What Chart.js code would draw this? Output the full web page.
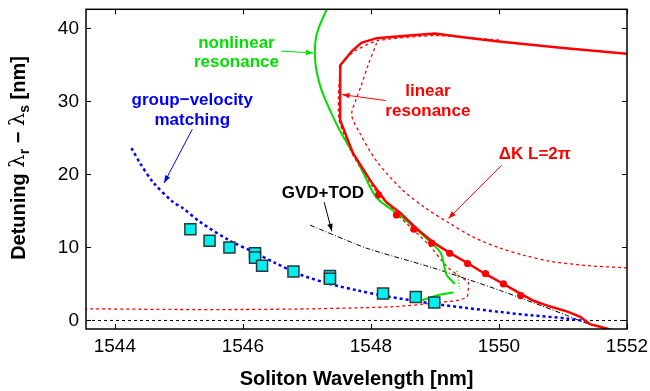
<!DOCTYPE html>
<html>
<head>
<meta charset="utf-8">
<script src="https://cdn.jsdelivr.net/npm/chart.js@4/dist/chart.umd.min.js"></script>
<style>
  html, body { margin: 0; padding: 0; background: #fff; }
  #chart { display: block; }
</style>
</head>
<body>
<canvas id="chart" width="650" height="391"></canvas>
<script>
// --- axis ticks ---
const xTicks = [1544, 1546, 1548, 1550, 1552];
const yTicks = [0, 10, 20, 30, 40];

// --- measured detuning (cyan squares) ---
const measX = [1545.18, 1545.48, 1545.79, 1546.19, 1546.19, 1546.30, 1546.79, 1547.36, 1547.36, 1548.19, 1548.70, 1548.99];
const measY = [12.5, 10.9, 10.0, 9.2, 8.6, 7.5, 6.7, 6.1, 5.7, 3.7, 3.2, 2.45];

// --- simulated points (red dots) ---
const simX = [1548.12, 1548.40, 1548.67, 1548.95, 1549.23, 1549.51, 1549.79, 1550.07, 1550.34];
const simY = [17.2, 14.45, 12.5, 10.6, 9.2, 7.8, 6.4, 5.0, 3.4];

// --- linear resonance (red solid) ---
const linX = [1552.0, 1551.0, 1550.0, 1549.5, 1549.0, 1548.45, 1548.09, 1547.85, 1547.70, 1547.52, 1547.52, 1547.72, 1548.01, 1548.24, 1548.45, 1548.71, 1548.97, 1549.23, 1549.50, 1549.78, 1550.03, 1550.28, 1550.54, 1550.80, 1551.06, 1551.27, 1551.42, 1551.58, 1551.76];
const linY = [36.5, 37.3, 38.2, 38.7, 39.3, 38.9, 38.65, 38.0, 36.85, 34.9, 27.4, 22.9, 18.9, 16.2, 14.8, 12.6, 10.7, 9.25, 7.9, 6.4, 5.2, 3.95, 2.7, 1.9, 1.25, 0.5, -0.5, -0.86, -1.3];

// --- Delta K L = 2 pi (red dashed, outer) ---
const dkX = [1548.09, 1547.95, 1547.85, 1547.77, 1547.70, 1547.83, 1548.09, 1548.48, 1548.85, 1549.23, 1549.60, 1550.02, 1550.40, 1550.80, 1551.40, 1552.0];
const dkY = [38.0, 34.8, 32.2, 30.3, 28.1, 25.6, 21.8, 18.0, 15.4, 13.3, 11.4, 9.9, 8.9, 8.1, 7.5, 7.2];

// --- linear resonance, inner branch (red dashed) ---
const innX = [1550.0, 1549.0, 1548.1, 1547.75, 1547.55, 1547.50, 1547.50, 1547.68, 1548.0, 1548.45, 1548.90, 1549.18, 1549.34, 1549.52, 1549.52, 1549.50, 1549.34, 1548.97, 1548.45, 1547.9, 1547.0, 1546.0, 1545.0, 1543.55];
const innY = [38.4, 39.0, 38.3, 36.9, 35.2, 32.0, 27.6, 23.3, 18.6, 14.2, 10.4, 7.45, 6.3, 5.2, 4.1, 3.2, 2.73, 2.37, 1.93, 1.75, 1.58, 1.5, 1.5, 1.6];

// --- nonlinear resonance (green) ---
const nlX = [1547.31, 1547.20, 1547.14, 1547.125, 1547.15, 1547.23, 1547.36, 1547.52, 1547.78, 1547.88, 1548.09, 1548.45, 1548.77, 1549.08, 1549.13, 1549.18, 1549.31];
const nlY = [42.6, 40.4, 38.65, 36.4, 34.15, 31.5, 28.8, 25.9, 22.0, 20.2, 16.8, 14.4, 12.0, 9.4, 8.1, 6.3, 5.0];
const nlLowX = [1549.29, 1549.02, 1548.82, 1548.70];
const nlLowY = [3.85, 3.4, 2.83, 2.7];
const nlDotX = [1549.34, 1549.39];
const nlDotY = [6.8, 4.3];

// --- group-velocity matching (blue dotted) ---
const gvmX = [1544.26, 1544.39, 1544.60, 1544.91, 1545.06, 1545.33, 1545.80, 1546.16, 1546.50, 1546.89, 1547.36, 1547.80, 1548.19, 1548.97, 1549.50, 1550.02, 1550.50, 1551.06, 1551.35];
const gvmY = [23.6, 21.6, 18.9, 16.2, 15.4, 13.5, 10.9, 9.4, 7.9, 6.3, 5.0, 4.1, 3.4, 2.3, 1.7, 1.16, 0.7, 0.27, -0.1];

// --- GVD+TOD (black dash-dot) ---
const gvdX = [1547.05, 1547.93, 1548.97, 1550.02, 1551.06, 1551.37, 1551.73];
const gvdY = [13.05, 9.9, 7.2, 4.1, 0.7, -0.4, -1.2];

// --- zero line ---
const zeroX = [1543.55, 1552.0];
const zeroY = [0, 0];

function pts(xs, ys) {
    return xs.map(function (x, i) { return { x: x, y: ys[i] }; });
}

function lineSet(xs, ys, color, width, dash, tension) {
    return {
        data: pts(xs, ys),
        showLine: true,
        borderColor: color,
        backgroundColor: color,
        borderWidth: width,
        borderDash: dash,
        pointRadius: 0,
        tension: tension,
        fill: false
    };
}

const FONT = '"Liberation Sans", Arial, Helvetica, sans-serif';
const RED = '#ff0000';
const GREEN = '#00e000';
const BLUE = '#0000ff';

// annotation texts and arrows, positioned in data units
const notes = [
    { lines: ['nonlinear', 'resonance'], color: GREEN, x: 1545.9, y: [38.0, 35.4] },
    { lines: ['group\u2212velocity', 'matching'], color: BLUE, x: 1545.21, y: [30.1, 27.4] },
    { lines: ['linear', 'resonance'], color: RED, x: 1548.89, y: [31.4, 28.7] },
    { lines: ['\u0394K L=2\u03c0'], color: RED, x: 1550.56, y: [22.8] },
    { lines: ['GVD+TOD'], color: '#000', x: 1547.25, y: [17.4] }
];
const arrows = [
    { from: [1546.60, 36.87], to: [1547.10, 36.63], color: GREEN },
    { from: [1545.21, 26.17], to: [1544.77, 18.83], color: BLUE },
    { from: [1548.23, 30.11], to: [1547.55, 30.92], color: RED },
    { from: [1550.04, 21.23], to: [1549.21, 13.95], color: RED },
    { from: [1547.27, 16.2], to: [1547.39, 12.2], color: '#000' }
];

const decorations = {
    id: 'decorations',
    afterDatasetsDraw: function (chart) {
        const ctx = chart.ctx;
        const xs = chart.scales.x, ys = chart.scales.y;
        const a = chart.chartArea;
        ctx.save();

        // frame
        ctx.strokeStyle = '#000';
        ctx.lineWidth = 1.5;
        ctx.strokeRect(a.left, a.top, a.right - a.left, a.bottom - a.top);

        // inward ticks on all four sides
        ctx.lineWidth = 1;
        ctx.beginPath();
        xTicks.forEach(function (v) {
            const px = Math.round(xs.getPixelForValue(v)) + 0.5;
            ctx.moveTo(px, a.bottom); ctx.lineTo(px, a.bottom - 5);
            ctx.moveTo(px, a.top); ctx.lineTo(px, a.top + 5);
        });
        yTicks.forEach(function (v) {
            const py = Math.round(ys.getPixelForValue(v)) + 0.5;
            ctx.moveTo(a.left, py); ctx.lineTo(a.left + 5, py);
            ctx.moveTo(a.right, py); ctx.lineTo(a.right - 5, py);
        });
        ctx.stroke();

        // arrows
        arrows.forEach(function (ar) {
            const x0 = xs.getPixelForValue(ar.from[0]), y0 = ys.getPixelForValue(ar.from[1]);
            const x1 = xs.getPixelForValue(ar.to[0]), y1 = ys.getPixelForValue(ar.to[1]);
            const ang = Math.atan2(y1 - y0, x1 - x0);
            ctx.strokeStyle = ar.color;
            ctx.fillStyle = ar.color;
            ctx.lineWidth = 1;
            ctx.beginPath();
            ctx.moveTo(x0, y0);
            ctx.lineTo(x1, y1);
            ctx.stroke();
            ctx.beginPath();
            ctx.moveTo(x1, y1);
            ctx.lineTo(x1 - 8 * Math.cos(ang - 0.35), y1 - 8 * Math.sin(ang - 0.35));
            ctx.lineTo(x1 - 8 * Math.cos(ang + 0.35), y1 - 8 * Math.sin(ang + 0.35));
            ctx.closePath();
            ctx.fill();
        });

        // labels
        ctx.font = 'bold 17px ' + FONT;
        ctx.textAlign = 'center';
        ctx.textBaseline = 'middle';
        notes.forEach(function (n) {
            ctx.fillStyle = n.color;
            n.lines.forEach(function (t, i) {
                ctx.fillText(t, xs.getPixelForValue(n.x), ys.getPixelForValue(n.y[i]));
            });
        });

        // y axis title with subscripts
        const parts = [
            { t: 'Detuning ', f: 'bold 20px ' + FONT, dy: 0 },
            { t: '\u03bb', f: '21px "DejaVu Serif", serif', dy: 0 },
            { t: 'r', f: 'bold 14px ' + FONT, dy: 6 },
            { t: ' \u2212 ', f: 'bold 20px ' + FONT, dy: 0 },
            { t: '\u03bb', f: '21px "DejaVu Serif", serif', dy: 0 },
            { t: 's', f: 'bold 14px ' + FONT, dy: 6 },
            { t: ' [nm]', f: 'bold 20px ' + FONT, dy: 0 }
        ];
        let total = 0;
        parts.forEach(function (p) { ctx.font = p.f; p.w = ctx.measureText(p.t).width; total += p.w; });
        ctx.translate(19, 158);
        ctx.rotate(-Math.PI / 2);
        ctx.fillStyle = '#000';
        ctx.textAlign = 'left';
        ctx.textBaseline = 'middle';
        let cx = -total / 2;
        parts.forEach(function (p) {
            ctx.font = p.f;
            ctx.fillText(p.t, cx, p.dy);
            cx += p.w;
        });
        ctx.restore();
    }
};

const ctx = document.getElementById('chart').getContext('2d');
new Chart(ctx, {
    type: 'scatter',
    data: {
        datasets: [
            {
                data: pts(measX, measY),
                pointStyle: 'rect',
                pointRadius: 7.8,
                backgroundColor: '#00f0f0',
                borderColor: '#2a3a3a',
                borderWidth: 1.5
            },
            {
                data: pts(simX, simY),
                pointStyle: 'circle',
                pointRadius: 3.6,
                backgroundColor: RED,
                borderColor: RED,
                borderWidth: 0
            },
            lineSet(linX, linY, RED, 2.5, [], 0),
            lineSet(nlX, nlY, GREEN, 2, [], 0.3),
            lineSet(nlLowX, nlLowY, GREEN, 2, [], 0.3),
            lineSet(nlDotX, nlDotY, GREEN, 1.5, [1, 2], 0),
            lineSet(gvmX, gvmY, BLUE, 2.5, [3, 3], 0.3),
            lineSet(innX, innY, RED, 1.3, [3, 3], 0.2),
            lineSet(dkX, dkY, RED, 1.3, [3, 3], 0.3),
            lineSet(gvdX, gvdY, '#000', 1, [5, 2, 1, 2], 0.2),
            lineSet(zeroX, zeroY, '#000', 1, [3, 3], 0)
        ]
    },
    options: {
        responsive: false,
        animation: false,
        layout: { padding: { top: 4, right: 23, left: 0, bottom: 0 } },
        plugins: {
            legend: { display: false },
            tooltip: { enabled: false }
        },
        scales: {
            x: {
                type: 'linear',
                min: 1543.55,
                max: 1552,
                afterFit: function (s) { s.height = 62; s.paddingLeft = 0; s.paddingRight = 0; },
                afterBuildTicks: function (s) { s.ticks = xTicks.map(function (v) { return { value: v }; }); },
                grid: { display: false, drawTicks: false },
                border: { display: false },
                ticks: {
                    color: '#000', padding: 6, maxRotation: 0,
                    font: { family: FONT, size: 19 },
                    callback: function (v) { return String(v); }
                },
                title: {
                    display: true,
                    text: 'Soliton Wavelength [nm]',
                    color: '#000',
                    padding: 0,
                    font: { family: FONT, size: 20, weight: 'bold' }
                }
            },
            y: {
                type: 'linear',
                min: -1.17,
                max: 42.6,
                afterFit: function (s) { s.width = 86; s.paddingTop = 0; s.paddingBottom = 0; },
                afterBuildTicks: function (s) { s.ticks = yTicks.map(function (v) { return { value: v }; }); },
                grid: { display: false, drawTicks: false },
                border: { display: false },
                ticks: {
                    color: '#000', padding: 7,
                    font: { family: FONT, size: 19 },
                    callback: function (v) { return String(v); }
                }
            }
        }
    },
    plugins: [decorations]
});
</script>
</body>
</html>
